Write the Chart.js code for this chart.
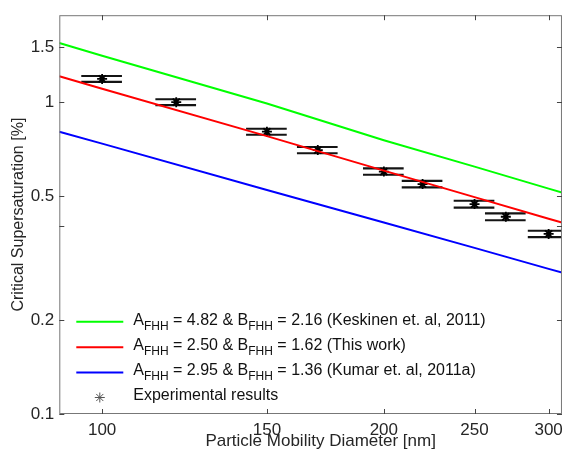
<!DOCTYPE html>
<html><head><meta charset="utf-8">
<script src="https://cdn.jsdelivr.net/npm/chart.js@4/dist/chart.umd.min.js"></script>
<style>html,body{margin:0;padding:0;background:#fff;}#wrap{width:569px;height:456px;position:relative;}</style>
</head><body><div id="wrap"><canvas id="c" width="569" height="456" style="width:569px;height:456px"></canvas></div>
<script>
// Model curves
const diameters = [90, 100, 150, 200, 250, 300, 310];
const keskinen = [1.547, 1.408, 0.99, 0.755, 0.621, 0.528, 0.513];
const thisWork = [1.211, 1.104, 0.778, 0.603, 0.496, 0.423, 0.411];
const kumar = [0.804, 0.736, 0.523, 0.411, 0.341, 0.292, 0.284];
// Experimental results
const expDiameter = [100, 120, 150, 170, 200, 220, 250, 270, 300];
const expSc = [1.187, 1.0, 0.804, 0.702, 0.599, 0.546, 0.471, 0.429, 0.378];
const expDiamErr = [5, 6, 7.5, 8.5, 10, 11, 12.5, 13.5, 15];
const expScErr = [0.026, 0.022, 0.018, 0.016, 0.014, 0.013, 0.012, 0.011, 0.009];
// Ticks
const xTicks = [100, 150, 200, 250, 300];
const xTickLabels = ['100', '150', '200', '250', '300'];
const yTicks = [0.1, 0.2, 0.4, 0.5, 1, 1.5];
const yTickLabels = ['0.1', '0.2', '', '0.5', '1', '1.5'];
// Texts
const xTitle = 'Particle Mobility Diameter [nm]';
const yTitle = 'Critical Supersaturation [%]';
const legendLabels = [
  [['A'], ['FHH', 1], [' = 4.82 & B'], ['FHH', 1], [' = 2.16 (Keskinen et. al, 2011)']],
  [['A'], ['FHH', 1], [' = 2.50 & B'], ['FHH', 1], [' = 1.62 (This work)']],
  [['A'], ['FHH', 1], [' = 2.95 & B'], ['FHH', 1], [' = 1.36 (Kumar et. al, 2011a)']],
  [['Experimental results']]
];
const FONT = '"Liberation Sans", Arial, sans-serif';

const toXY = (xs, ys) => xs.map((x, i) => ({x, y: ys[i]}));

const frameAndExtras = {
  id: 'frameAndExtras',
  beforeDatasetsDraw(chart) {
    const {ctx, chartArea: a, scales: {x, y}} = chart;
    ctx.save();
    ctx.beginPath(); ctx.rect(a.left, a.top, a.right - a.left, a.bottom - a.top); ctx.clip();
    ctx.strokeStyle = '#141414'; ctx.lineWidth = 2.1;
    for (let i = 0; i < expDiameter.length; i++) {
      const xl = x.getPixelForValue(expDiameter[i] - expDiamErr[i]);
      const xr = x.getPixelForValue(expDiameter[i] + expDiamErr[i]);
      const yu = y.getPixelForValue(expSc[i] + expScErr[i]);
      const yd = y.getPixelForValue(expSc[i] - expScErr[i]);
      const xc = x.getPixelForValue(expDiameter[i]);
      ctx.beginPath();
      ctx.moveTo(xl, yu); ctx.lineTo(xr, yu);
      ctx.moveTo(xl, yd); ctx.lineTo(xr, yd);
      ctx.moveTo(xc, yu); ctx.lineTo(xc, yd);
      ctx.stroke();
    }
    ctx.restore();
  },
  afterDraw(chart) {
    const {ctx, chartArea: a, scales: {x, y}} = chart;
    ctx.save();
    ctx.strokeStyle = '#777'; ctx.lineWidth = 1;
    ctx.strokeRect(a.left + 0.5, a.top + 0.5, a.right - a.left - 1, a.bottom - a.top - 1);
    ctx.strokeStyle = '#444';
    const tl = 5;
    ctx.beginPath();
    xTicks.forEach(v => {
      const p = Math.round(x.getPixelForValue(v)) + 0.5;
      ctx.moveTo(p, a.bottom); ctx.lineTo(p, a.bottom - tl);
      ctx.moveTo(p, a.top); ctx.lineTo(p, a.top + tl);
    });
    yTicks.forEach(v => {
      const p = Math.round(y.getPixelForValue(v)) + 0.5;
      ctx.moveTo(a.left, p); ctx.lineTo(a.left + tl, p);
      ctx.moveTo(a.right, p); ctx.lineTo(a.right - tl, p);
    });
    ctx.stroke();
    // x-axis title
    ctx.fillStyle = '#262626';
    ctx.font = '17px ' + FONT;
    ctx.textAlign = 'center'; ctx.textBaseline = 'alphabetic';
    ctx.fillText(xTitle, (a.left + a.right) / 2 + 10, 445.5);
    // legend
    ctx.textAlign = 'left';
    const colors = ['#00ff00', '#ff0000', '#0000ff'];
    const lx0 = a.left + 17, lx1 = a.left + 64, tx = a.left + 74;
    const rowY = [321.7, 347.2, 372.5, 397.5];
    ctx.fillStyle = '#111';
    legendLabels.forEach((parts, r) => {
      const yy = rowY[r];
      if (r < 3) {
        ctx.strokeStyle = colors[r]; ctx.lineWidth = 2;
        ctx.beginPath(); ctx.moveTo(lx0, yy); ctx.lineTo(lx1, yy); ctx.stroke();
      } else {
        ctx.strokeStyle = '#555'; ctx.lineWidth = 1;
        const cx = (lx0 + lx1) / 2, rr = 5;
        ctx.beginPath();
        for (let k = 0; k < 4; k++) {
          const ang = k * Math.PI / 4;
          ctx.moveTo(cx - rr * Math.cos(ang), yy - rr * Math.sin(ang));
          ctx.lineTo(cx + rr * Math.cos(ang), yy + rr * Math.sin(ang));
        }
        ctx.stroke();
      }
      let cx = tx;
      const base = yy + 2.8;
      parts.forEach(([t, sub]) => {
        ctx.font = (sub ? '12px ' : '16px ') + FONT;
        ctx.fillText(t, cx, sub ? base + 5 : base);
        cx += ctx.measureText(t).width;
      });
    });
    ctx.restore();
  }
};

new Chart(document.getElementById('c'), {
  type: 'scatter',
  data: {
    datasets: [
      {data: toXY(diameters, keskinen), showLine: true, borderColor: '#00ff00', borderWidth: 2, pointRadius: 0},
      {data: toXY(diameters, thisWork), showLine: true, borderColor: '#ff0000', borderWidth: 2, pointRadius: 0},
      {data: toXY(diameters, kumar), showLine: true, borderColor: '#0000ff', borderWidth: 2, pointRadius: 0},
      {data: toXY(expDiameter, expSc), showLine: false, pointStyle: 'star', pointRadius: 5,
       borderColor: '#000', backgroundColor: '#000', pointBorderWidth: 1.8}
    ]
  },
  options: {
    responsive: false, animation: false, devicePixelRatio: 1,
    layout: {padding: {top: 14, right: 1.5, left: 0, bottom: 0}},
    plugins: {legend: {display: false}, tooltip: {enabled: false}},
    scales: {
      x: {
        type: 'logarithmic', min: 90, max: 310,
        afterBuildTicks: s => { s.ticks = xTicks.map(v => ({value: v})); },
        afterFit: s => { s.height = 42; },
        grid: {display: false, drawTicks: false},
        border: {display: false},
        ticks: {autoSkip: false, maxRotation: 0, padding: 6, color: '#262626', font: {family: FONT, size: 17},
          callback: (v) => { const i = xTicks.indexOf(v); return i >= 0 ? xTickLabels[i] : ''; }},
        title: {display: false}
      },
      y: {
        type: 'logarithmic', min: 0.1, max: 1.9,
        afterBuildTicks: s => { s.ticks = yTicks.map(v => ({value: v})); },
        afterFit: s => { s.width = 59.3; },
        grid: {display: false, drawTicks: false},
        border: {display: false},
        ticks: {autoSkip: false, padding: 5, color: '#262626', font: {family: FONT, size: 17},
          callback: (v) => { const i = yTicks.indexOf(v); return i >= 0 ? yTickLabels[i] : ''; }},
        title: {display: true, text: yTitle, color: '#262626',
          font: {family: FONT, size: 16}, padding: {top: 8.5, bottom: 0}}
      }
    }
  },
  plugins: [frameAndExtras]
});
</script></body></html>
